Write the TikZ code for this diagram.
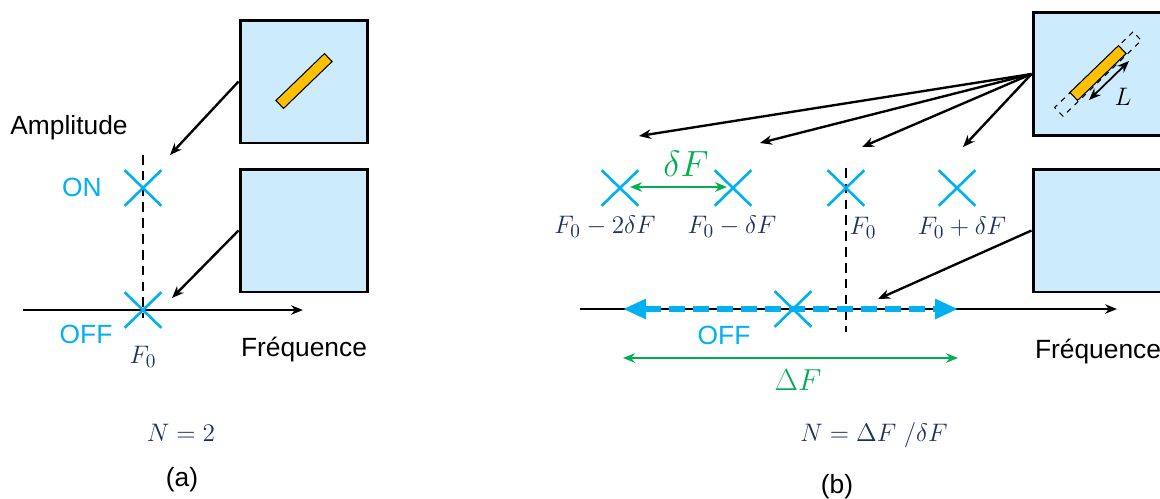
\documentclass[tikz,border=0pt]{standalone}
\usepackage{fontspec}
\setmainfont{Liberation Sans}
\usetikzlibrary{arrows.meta,positioning,shapes.misc}
\definecolor{boxblue}{HTML}{CCEBFD}
\definecolor{barorange}{HTML}{FFC000}
\definecolor{markcyan}{HTML}{00B0F0}
\definecolor{spangreen}{HTML}{00B050}
\definecolor{mathnavy}{HTML}{1A3060}

\begin{document}
\begin{tikzpicture}[
  x=0.02cm, y=-0.02cm,
  >={Stealth[length=0.24cm,width=0.19cm]},
  mirror/.style={rectangle, draw=black, fill=boxblue, line width=1.7pt, minimum width=2.56cm, minimum height=2.46cm, inner sep=0pt},
  strip/.style={rectangle, draw=black, fill=barorange, line width=0.6pt, minimum width=1.35cm, minimum height=0.22cm, inner sep=0pt, rotate=44},
  ghost/.style={rectangle, draw=black, dashed, line width=0.6pt, minimum width=2.18cm, minimum height=0.24cm, inner sep=0pt, rotate=44},
  crossmark/.style={cross out, draw=markcyan, line width=1.5pt, minimum width=0.68cm, minimum height=0.66cm, inner sep=0pt},
  pointer/.style={->, line width=1.35pt},
  freqaxis/.style={->, line width=1.35pt},
  guide/.style={dash pattern=on 5.5pt off 3.5pt, line width=1.3pt},
  gap/.style={<->, draw=spangreen, line width=1.35pt},
  offband/.style={{Triangle[length=0.46cm,width=0.38cm]}-{Triangle[length=0.46cm,width=0.38cm]}, draw=markcyan, line width=3.2pt, dash pattern=on 0.33cm off 0.15cm},
  state/.style={text=markcyan, font=\fontsize{15}{18}\selectfont},
  word/.style={font=\fontsize{15}{18}\selectfont},
  freqtag/.style={text=mathnavy, font=\fontsize{15.5}{18}\selectfont},
  spantag/.style={text=spangreen, font=\fontsize{20}{24}\selectfont}
]
  \useasboundingbox (0,0) rectangle (1160,498);

  % (a) single element
  \node[mirror] (ma1) at (304,81.5) {};
  \node[mirror] (ma2) at (304,230.5) {};
  \node[strip] (sa) at (304,81) {};
  \coordinate (axa0) at (23,310);
  \coordinate (axa1) at (303,310);
  \coordinate (gda0) at (143,155);
  \coordinate (gda1) at (143,318);
  \draw[guide] (gda0) -- (gda1);
  \draw[freqaxis] (axa0) -- (axa1);
  \node[crossmark] (xon) at (143,188) {};
  \node[crossmark] (xoff) at (143,310) {};
  \coordinate (tipon) at (170,155);
  \coordinate (tipoff) at (172,298);
  \draw[pointer] (ma1.west) -- (tipon);
  \draw[pointer] (ma2.west) -- (tipoff);
  \node[word] (ampl) at (69,128) {Amplitude};
  \node[state] (lon) at (82,187) {ON};
  \node[state] (loffa) at (86,334) {OFF};
  \node[freqtag] (fa) at (143,357) {$F_0$};
  \node[word] (freqa) at (304,350) {Fréquence};
  \node[freqtag] (na) at (181,433) {$N=2$};
  \node[word] (capa) at (182,480) {(a)};

  % (b) element of length L
  \node[mirror] (mb1) at (1097,74) {};
  \node[mirror] (mb2) at (1097,230.5) {};
  \node[ghost] (gb) at (1098,74) {};
  \node[strip] (sb) at (1098,73) {};
  \coordinate (lenb0) at (1089,100);
  \coordinate (lenb1) at (1129,61);
  \draw[<->, line width=1pt] (lenb0) -- (lenb1);
  \node[font=\fontsize{15}{18}\selectfont] (lenl) at (1123,97) {$L$};
  \coordinate (axb0) at (580,309);
  \coordinate (axb1) at (1117,309);
  \coordinate (gdb0) at (846,168);
  \coordinate (gdb1) at (846,332);
  \draw[guide] (gdb0) -- (gdb1);
  \draw[freqaxis] (axb0) -- (axb1);
  \coordinate (bandl) at (623,309);
  \coordinate (bandr) at (958,309);
  \draw[offband] (bandl) -- (bandr);
  \foreach \n/\fx in {1/620,2/733,3/846,4/957}
    \node[crossmark] (xb\n) at (\fx,188) {};
  \node[crossmark] (xboff) at (793,309) {};
  \foreach \n/\tx/\ty in {1/639/136,2/760/143,3/862/147,4/963/147}
    \coordinate (tip\n) at (\tx,\ty);
  \foreach \n in {1,...,4}
    \draw[pointer] (mb1.west) -- (tip\n);
  \coordinate (tipboff) at (878,299);
  \draw[pointer] (mb2.west) -- (tipboff);
  \coordinate (db0) at (630,187);
  \coordinate (db1) at (727,187);
  \draw[gap] (db0) -- (db1);
  \node[spantag] (dfl) at (686,164) {$\delta F$};
  \node[freqtag] (f1) at (605,227) {$F_0-2\delta F$};
  \node[freqtag] (f2) at (732,227) {$F_0-\delta F$};
  \node[freqtag] (f3) at (863,228) {$F_0$};
  \node[freqtag] (f4) at (962,228) {$F_0+\delta F$};
  \node[state] (loffb) at (724,335) {OFF};
  \coordinate (sp0) at (623,358);
  \coordinate (sp1) at (958,358);
  \draw[gap] (sp0) -- (sp1);
  \node[spantag, font=\fontsize{19}{22}\selectfont] (dfb) at (798,380) {$\Delta F$};
  \node[word] (freqb) at (1098,352) {Fréquence};
  \node[freqtag] (nb) at (874,435) {$N=\Delta F\ /\delta F$};
  \node[word] (capb) at (837,487) {(b)};
\end{tikzpicture}
\end{document}
